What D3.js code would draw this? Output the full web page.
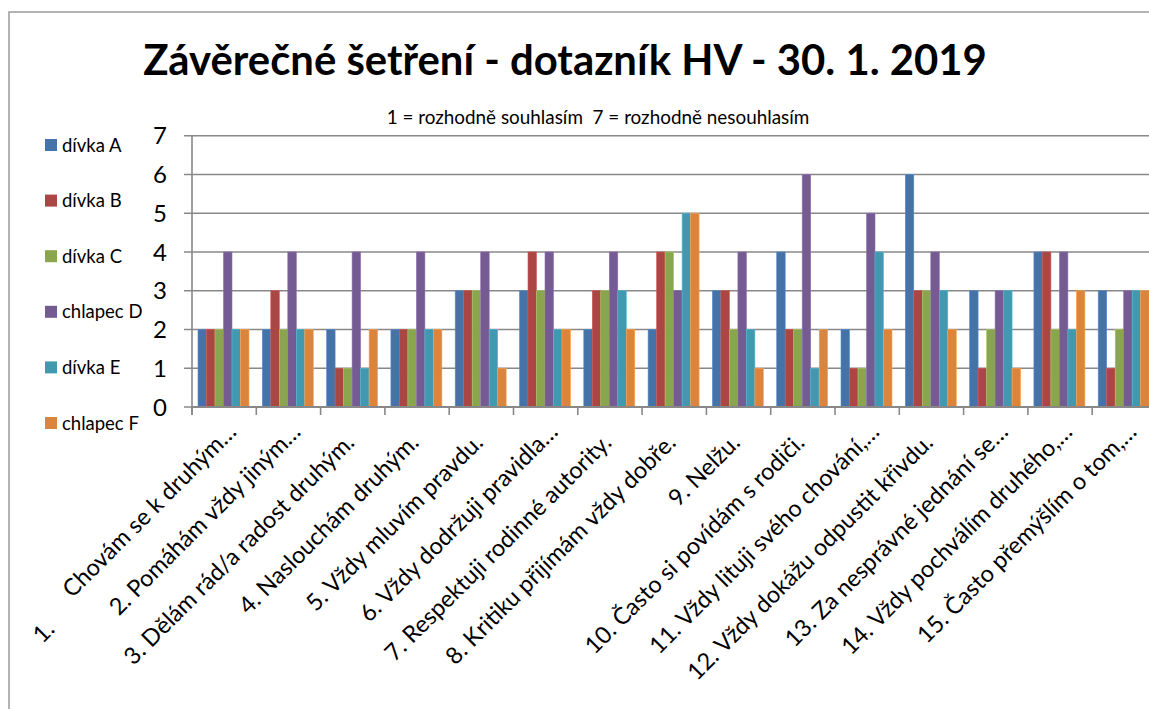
<!DOCTYPE html>
<html>
<head>
<meta charset="utf-8">
<script src="https://cdn.jsdelivr.net/npm/d3@7"></script>
<style>
  body { margin: 0; background: #fff; }
  svg { display: block; font-family: Lato, "Noto Sans", sans-serif; }
  text { white-space: pre; }
</style>
</head>
<body>
<div id="chart"></div>
<script>
const chartTitle = 'Závěrečné šetření - dotazník HV - 30. 1. 2019'
const chartSubtitle = '1 = rozhodně souhlasím  7 = rozhodně nesouhlasím'

const categories = [
	'1.  Chovám se k druhým…',
	'2. Pomáhám vždy jiným…',
	'3. Dělám rád/a radost druhým.',
	'4. Naslouchám druhým.',
	'5. Vždy mluvím pravdu.',
	'6. Vždy dodržuji pravidla…',
	'7. Respektuji rodinné autority.',
	'8. Kritiku přijímám vždy dobře.',
	'9. Nelžu.',
	'10. Často si povídám s rodiči.',
	'11. Vždy lituji svého chování,…',
	'12. Vždy dokážu odpustit křivdu.',
	'13. Za nesprávné jednání se…',
	'14. Vždy pochválím druhého,…',
	'15. Často přemýšlím o tom,…'
]

const seriesNames = ['dívka A', 'dívka B', 'dívka C', 'chlapec D', 'dívka E', 'chlapec F']

const divkaA   = [2, 2, 2, 2, 3, 3, 2, 2, 3, 4, 2, 6, 3, 4, 3]
const divkaB   = [2, 3, 1, 2, 3, 4, 3, 4, 3, 2, 1, 3, 1, 4, 1]
const divkaC   = [2, 2, 1, 2, 3, 3, 3, 4, 2, 2, 1, 3, 2, 2, 2]
const chlapecD = [4, 4, 4, 4, 4, 4, 4, 3, 4, 6, 5, 4, 3, 4, 3]
const divkaE   = [2, 2, 1, 2, 2, 2, 3, 5, 2, 1, 4, 3, 3, 2, 3]
const chlapecF = [2, 2, 2, 2, 1, 2, 2, 5, 1, 2, 2, 2, 1, 3, 3]

const seriesValues = [divkaA, divkaB, divkaC, chlapecD, divkaE, chlapecF]
const seriesColors = ['#4572A7', '#AA4643', '#89A54E', '#745B91', '#4198AF', '#DB843D']

const yTicks = [0, 1, 2, 3, 4, 5, 6, 7]

const width = 1149
const height = 709

const svg = d3.select('#chart')
	.append('svg')
	.attr('width', width)
	.attr('height', height)

// outer frame of the chart
svg.append('rect')
	.attr('x', 9)
	.attr('y', 12)
	.attr('width', 1200)
	.attr('height', 800)
	.attr('fill', 'none')
	.attr('stroke', '#9a9a9a')
	.attr('stroke-width', 1.5)

const plotLeft = 192
const catWidth = 64.3

let x0 = d3.scaleBand()
	.domain(categories)
	.range([plotLeft, plotLeft + catWidth * categories.length])

let x1 = d3.scaleBand()
	.domain(seriesNames)
	.range([6, 57])

let yScale = d3.scaleLinear()
	.domain([0, 7])
	.range([407, 135.7])

// gridlines
svg.append('g')
	.selectAll('line')
	.data(yTicks)
	.enter()
	.append('line')
	.attr('x1', plotLeft - 8)
	.attr('x2', width)
	.attr('y1', d => yScale(d))
	.attr('y2', d => yScale(d))
	.attr('stroke', '#888')
	.attr('stroke-width', 1.6)

// bars
let rows = []
categories.forEach(function(c, i){
	seriesNames.forEach(function(s, j){
		rows.push({cat: c, series: s, value: seriesValues[j][i], color: seriesColors[j]})
	})
})

svg.append('g')
	.selectAll('rect')
	.data(rows)
	.enter()
	.append('rect')
	.attr('x', d => x0(d.cat) + x1(d.series))
	.attr('y', d => yScale(d.value))
	.attr('width', x1.bandwidth())
	.attr('height', d => yScale(0) - yScale(d.value))
	.attr('fill', d => d.color)
	.attr('stroke', d => d3.color(d.color).brighter(0.6))
	.attr('stroke-width', 0.6)

// axes lines
svg.append('line')
	.attr('x1', plotLeft).attr('x2', plotLeft)
	.attr('y1', yScale(7)).attr('y2', yScale(0) + 8)
	.attr('stroke', '#888').attr('stroke-width', 1.6)

svg.append('line')
	.attr('x1', plotLeft).attr('x2', width)
	.attr('y1', yScale(0)).attr('y2', yScale(0))
	.attr('stroke', '#888').attr('stroke-width', 1.8)

let boundaries = categories.map(c => x0(c)).concat([x0.range()[1]])

svg.append('g')
	.selectAll('line')
	.data(boundaries)
	.enter()
	.append('line')
	.attr('x1', d => d).attr('x2', d => d)
	.attr('y1', yScale(0)).attr('y2', yScale(0) + 8)
	.attr('stroke', '#888').attr('stroke-width', 1.6)

// y tick labels
svg.append('g')
	.selectAll('text')
	.data(yTicks)
	.enter()
	.append('text')
	.attr('x', 167)
	.attr('y', d => yScale(d))
	.attr('dy', '0.36em')
	.attr('text-anchor', 'end')
	.attr('font-size', 24)
	.attr('fill', '#000')
	.text(d => d)

// x labels, rotated
let xLabels = svg.append('g')
	.selectAll('text')
	.data(categories)
	.enter()
	.append('text')
	.attr('text-anchor', 'end')
	.attr('font-size', 23.5)
	.attr('fill', '#000')
	.attr('transform', function(d){
		let cx = x0(d) + x0.bandwidth() / 2 + 3
		let shift = d.endsWith('…') ? 15 : 0
		return 'translate(' + (cx + shift * 0.707) + ',' + (444 - shift * 0.707) + ') rotate(-45)'
	})

xLabels.each(function(d){
	let parts = d.split(/\s{2,}/)
	let t = d3.select(this)
	if(parts.length > 1){
		t.append('tspan').attr('dy', 11).text(parts[0])
		t.append('tspan').attr('dx', 28).attr('dy', -11).text(' ' + parts[1])
	} else {
		t.text(d)
	}
})

// title
let title = svg.append('text')
	.attr('x', 565)
	.attr('y', 75)
	.attr('text-anchor', 'middle')
	.attr('font-weight', 'bold')
	.attr('font-size', 42)
	.text(chartTitle)

let tw = title.node().getComputedTextLength()
title.attr('font-size', 42 * 844 / tw)

let subtitle = svg.append('text')
	.attr('x', 598)
	.attr('y', 124)
	.attr('text-anchor', 'middle')
	.attr('font-size', 17)
	.text(chartSubtitle)

let sw = subtitle.node().getComputedTextLength()
subtitle.attr('font-size', 17 * 423 / sw)

// legend
let legend = svg.append('g')
	.selectAll('g')
	.data(seriesNames)
	.enter()
	.append('g')
	.attr('transform', (d, i) => 'translate(45,' + (145 + i * 55.6) + ')')

legend.append('rect')
	.attr('x', 0)
	.attr('y', -6)
	.attr('width', 12)
	.attr('height', 12)
	.attr('fill', (d, i) => seriesColors[i])

legend.append('text')
	.attr('x', 17)
	.attr('y', 0)
	.attr('dy', '0.36em')
	.attr('font-size', 18.5)
	.text(d => d)
</script>
</body>
</html>
